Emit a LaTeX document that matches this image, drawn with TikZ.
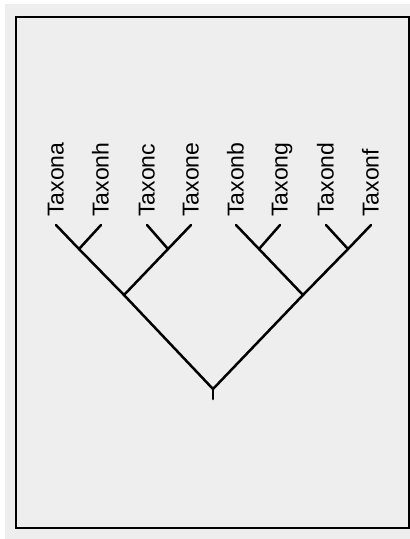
\documentclass[tikz,border=0pt]{standalone}
\usepackage{fontspec}
\setmainfont{Liberation Sans}
\usepackage{tikz}
\usetikzlibrary{positioning}
\definecolor{panel}{RGB}{238,238,238}
\tikzset{
  branch/.style={line width=2.5pt,line cap=round,black},
  taxon/.style={rotate=90,anchor=base west,inner sep=0pt,font=\fontsize{23}{23}\selectfont}
}
\begin{document}
\begin{tikzpicture}[x=1pt,y=-1pt]
\useasboundingbox (0,0) rectangle (410,539);
\fill[white](0,0) rectangle (410,539);
\fill[panel](5,4) rectangle (410,539);
\draw[line width=2pt](16,17) rectangle (408.5,528);
% leaves
\coordinate (a) at (56,225);
\coordinate (h) at (101,225);
\coordinate (c) at (147,225);
\coordinate (e) at (191,225);
\coordinate (b) at (236,225);
\coordinate (g) at (280,225);
\coordinate (d) at (326,225);
\coordinate (f) at (371,225);
% inner nodes
\coordinate (ah) at (79,249);
\coordinate (ce) at (168,249);
\coordinate (bg) at (259,249);
\coordinate (df) at (348,249);
\coordinate (ahce) at (124,295);
\coordinate (bgdf) at (303,295);
\coordinate (root) at (213,389);
\coordinate (stem) at (213,399);
% labels
\foreach \t in {a,h,c,e,b,g,d,f}
  \node[taxon] (lab\t) at ([xshift=7.5pt,yshift=8pt]\t) {Taxon\t};
% branches
\draw[branch](a)--(ah)--(ahce)--(root)--(bgdf)--(df)--(f);
\draw[branch](h)--(ah);
\draw[branch](c)--(ce);
\draw[branch](e)--(ce)--(ahce);
\draw[branch](b)--(bg)--(bgdf);
\draw[branch](g)--(bg);
\draw[branch](d)--(df);
\draw[branch](root)--(stem);
\end{tikzpicture}
\end{document}
